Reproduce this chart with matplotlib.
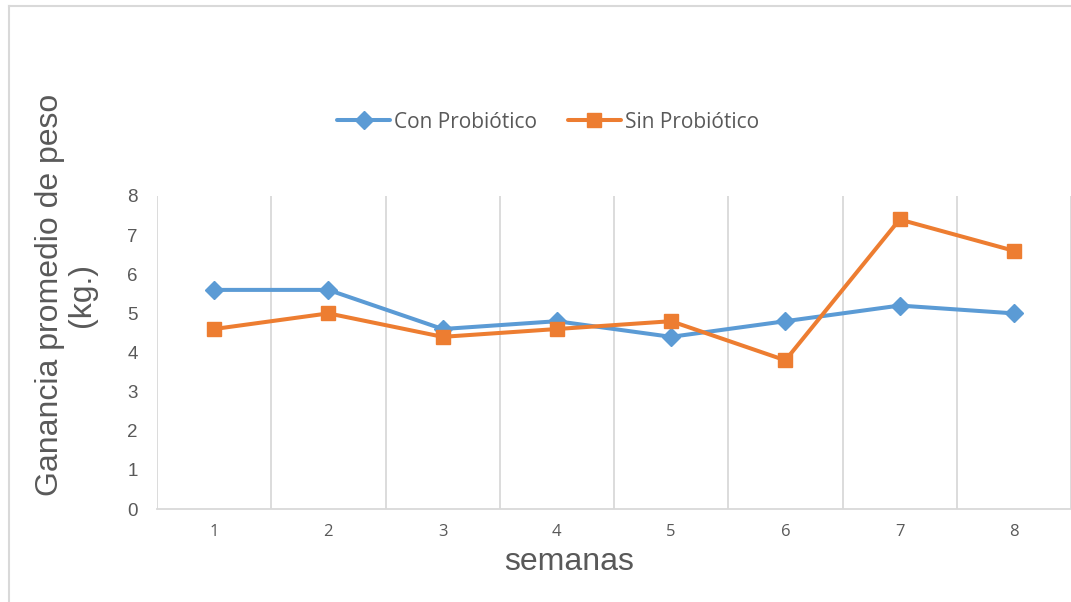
import matplotlib
matplotlib.use("Agg")
import matplotlib.pyplot as plt
from matplotlib.lines import Line2D

semanas = [1, 2, 3, 4, 5, 6, 7, 8]
con_probiotico = [5.6, 5.6, 4.6, 4.8, 4.4, 4.8, 5.2, 5.0]
sin_probiotico = [4.6, 5.0, 4.4, 4.6, 4.8, 3.8, 7.4, 6.6]
y_ticks = [0, 1, 2, 3, 4, 5, 6, 7, 8]
series_names = ["Con Probiótico", "Sin Probiótico"]

W, H = 1071, 602
fig = plt.figure(figsize=(W / 100, H / 100), dpi=100)
fig.patch.set_facecolor("white")

# figure border (light gray top and left lines)
fig.add_artist(Line2D([9 / W, 9 / W], [0, 1 - 5.5 / H], transform=fig.transFigure,
                      color="#D9D9D9", lw=1.5))
fig.add_artist(Line2D([9 / W, 1], [1 - 5.5 / H, 1 - 5.5 / H], transform=fig.transFigure,
                      color="#D9D9D9", lw=1.5))

ax = fig.add_axes([157 / W, 1 - 509 / H, (1071 - 157) / W, (509 - 196) / H])
ax.set_xlim(0.5, 8.5)
ax.set_ylim(0, 8)

blue = "#5B9BD5"
orange = "#ED7D31"
ax.plot(semanas, con_probiotico, color=blue, lw=2.9, marker="D", markersize=9,
        label=series_names[0], zorder=3, solid_capstyle="round")
ax.plot(semanas, sin_probiotico, color=orange, lw=2.9, marker="s", markersize=10.5,
        label=series_names[1], zorder=4, solid_capstyle="round")

# vertical gridlines between categories
for xb in [i + 0.5 for i in range(0, 9)]:
    ax.axvline(xb, color="#D9D9D9", lw=1.3, zorder=1)

for s in ["top", "right", "left"]:
    ax.spines[s].set_visible(False)
ax.spines["bottom"].set_color("#D9D9D9")
ax.spines["bottom"].set_linewidth(1.3)

ax.set_xticks(semanas)
ax.set_xticklabels([str(s) for s in semanas], fontsize=12, color="#595959",
                   family="Open Sans")
ax.set_yticks(y_ticks)
ax.set_yticklabels([str(v) for v in y_ticks], fontsize=13.5, color="#595959",
                   family="Liberation Sans")
ax.tick_params(axis="both", length=0)
ax.tick_params(axis="x", pad=11)
ax.tick_params(axis="y", pad=14)

fig.text(569 / W, 1 - 562 / H, "semanas", ha="center", va="center",
         fontsize=23, color="#595959", family="Liberation Sans")
fig.text(66 / W, 1 - 295 / H, "Ganancia promedio de peso\n(kg.)", ha="center",
         va="center", rotation=90, fontsize=23, color="#595959",
         family="Liberation Sans", linespacing=1.05)

leg = fig.legend(loc="center", bbox_to_anchor=(548 / W, 1 - 122 / H), ncol=2,
                 frameon=False, prop={"family": "Open Sans", "size": 15},
                 handlelength=2.55, columnspacing=1.45, handletextpad=0.2)
for t in leg.get_texts():
    t.set_color("#595959")

fig.savefig("out.png", dpi=100, facecolor="white")
